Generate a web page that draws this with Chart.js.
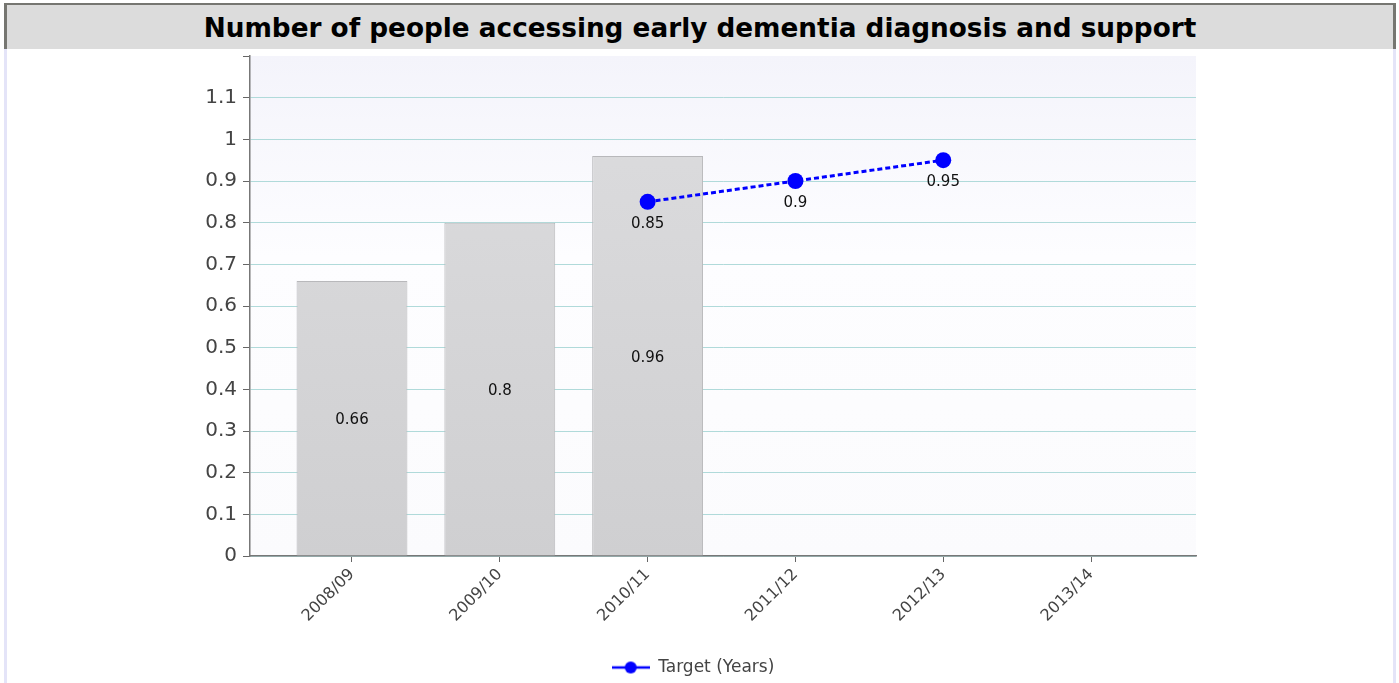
<!DOCTYPE html>
<html>
<head>
<meta charset="utf-8">
<script src="https://cdn.jsdelivr.net/npm/chart.js@4"></script>
<style>
  body { margin: 0; background: #fff; width: 1399px; height: 683px; overflow: hidden; position: relative; }
  #titlebar {
    position: absolute; left: 4px; top: 3px; width: 1392px; height: 46px; box-sizing: border-box;
    background: #dcdcdc; border-top: 2px solid #767671; border-left: 3px solid #767671; border-right: 3px solid #767671;
    font-family: "DejaVu Sans", sans-serif; font-weight: bold; font-size: 27px; color: #000;
    text-align: center; line-height: 42px; padding-top: 2px; white-space: nowrap;
  }
  .strip { position: absolute; top: 49px; width: 3px; height: 634px; background: #e4e4f8; }
  #wrap { position: absolute; left: 0; top: 38px; width: 1204px; height: 648px; }
</style>
</head>
<body>
<div id="titlebar"><span id="title">Number of people accessing early dementia diagnosis and support</span></div>
<div class="strip" style="left:4px"></div>
<div class="strip" style="left:1393px"></div>
<div id="wrap"><canvas id="chart"></canvas></div>
<script>
const years = ["2008/09", "2009/10", "2010/11", "2011/12", "2012/13", "2013/14"];
const actual = [0.66, 0.8, 0.96];
const target = [null, null, 0.85, 0.9, 0.95];
const targetLabel = "Target (Years)";

// fit title to the width it has in the original
const t = document.getElementById("title");
t.style.fontSize = (27 * 993 / t.getBoundingClientRect().width).toFixed(2) + "px";

const barPoints = actual.map((v, i) => ({ x: i, y: v }));
const linePoints = target.map((v, i) => (v === null ? null : { x: i, y: v })).filter(p => p);

// legend marker: line with a dot
const marker = document.createElement("canvas");
marker.width = 38; marker.height = 14;
const mc = marker.getContext("2d");
mc.strokeStyle = "#0000ff"; mc.lineWidth = 2.5;
mc.beginPath(); mc.moveTo(0, 7); mc.lineTo(38, 7); mc.stroke();
mc.fillStyle = "#0000ff";
mc.beginPath(); mc.arc(19, 7, 6, 0, Math.PI * 2); mc.fill();

const plotBg = {
  id: "plotBg",
  beforeDraw(chart) {
    const { ctx, chartArea: a } = chart;
    const g = ctx.createLinearGradient(0, a.top, 0, a.bottom);
    g.addColorStop(0, "#f4f4fb");
    g.addColorStop(0.4, "#fdfdff");
    g.addColorStop(1, "#fbfbfd");
    ctx.save();
    ctx.fillStyle = g;
    ctx.fillRect(a.left, a.top, a.right - a.left, a.bottom - a.top);
    ctx.restore();
  }
};

const valueLabels = {
  id: "valueLabels",
  afterDatasetsDraw(chart) {
    const ctx = chart.ctx;
    ctx.save();
    ctx.font = '15px "DejaVu Sans"';
    ctx.fillStyle = "#111";
    ctx.textAlign = "center";
    ctx.textBaseline = "middle";
    chart.data.datasets.forEach((ds, i) => {
      const meta = chart.getDatasetMeta(i);
      meta.data.forEach((el, j) => {
        const v = ds.data[j].y;
        if (ds.type === "line") ctx.fillText(v, el.x, el.y + 22);
        else ctx.fillText(v, el.x, (el.y + el.base) / 2 + 2);
      });
    });
    ctx.restore();
  }
};

new Chart(document.getElementById("chart"), {
  type: "bar",
  data: {
    datasets: [
      {
        type: "line",
        label: targetLabel,
        data: linePoints,
        borderColor: "#0000ff",
        backgroundColor: "#0000ff",
        borderWidth: 3,
        borderDash: [5, 3],
        pointRadius: 8,
        pointBackgroundColor: "#0000ff",
        pointBorderWidth: 0,
        order: 0
      },
      {
        label: "Actual",
        data: barPoints,
        backgroundColor: (c) => {
          const a = c.chart.chartArea;
          if (!a) return "#d6d6d8";
          const g = c.chart.ctx.createLinearGradient(0, a.top, 0, a.bottom);
          g.addColorStop(0, "#dddddf");
          g.addColorStop(1, "#cfcfd1");
          return g;
        },
        borderColor: "#b8b8bb",
        borderWidth: 1,
        borderSkipped: "bottom",
        categoryPercentage: 1,
        barPercentage: 0.75,
        order: 1
      }
    ]
  },
  plugins: [plotBg, valueLabels],
  options: {
    responsive: true,
    maintainAspectRatio: false,
    animation: false,
    layout: { padding: { left: 184, right: 2, top: 5, bottom: 0 } },
    scales: {
      x: {
        type: "linear",
        offset: false,
        min: -0.69,
        max: 5.71,
        afterBuildTicks: (s) => { s.ticks = years.map((y, i) => ({ value: i })); },
        afterFit: (s) => { s.height = 93; },
        ticks: {
          autoSkip: false,
          minRotation: 45,
          maxRotation: 45,
          color: "#444",
          font: { family: "DejaVu Sans", size: 16 },
          callback: (v) => years[v]
        },
        grid: { offset: false, drawOnChartArea: false, tickLength: 6, tickColor: "#666" },
        border: { color: "#777", width: 1.5 }
      },
      y: {
        min: 0,
        max: 1.2,
        afterFit: (s) => { s.width = 66; },
        ticks: {
          stepSize: 0.1,
          color: "#444",
          font: { family: "DejaVu Sans", size: 20 },
          padding: 6,
          callback: (v) => (v > 1.15 ? "" : String(Math.round(v * 10) / 10))
        },
        grid: {
          color: (c) => (c.tick && c.tick.value > 1.15 ? "rgba(0,0,0,0)" : "#b0dada"),
          tickLength: 7,
          tickColor: "#666"
        },
        border: { color: "#777", width: 1.5 }
      }
    },
    plugins: {
      title: { display: false },
      tooltip: { enabled: false },
      legend: {
        position: "bottom",
        labels: {
          filter: (item) => item.text === targetLabel,
          usePointStyle: true,
          pointStyle: marker,
          pointStyleWidth: 38,
          padding: 10,
          color: "#444",
          font: { family: "DejaVu Sans", size: 17 }
        }
      }
    }
  }
});
</script>
</body>
</html>
